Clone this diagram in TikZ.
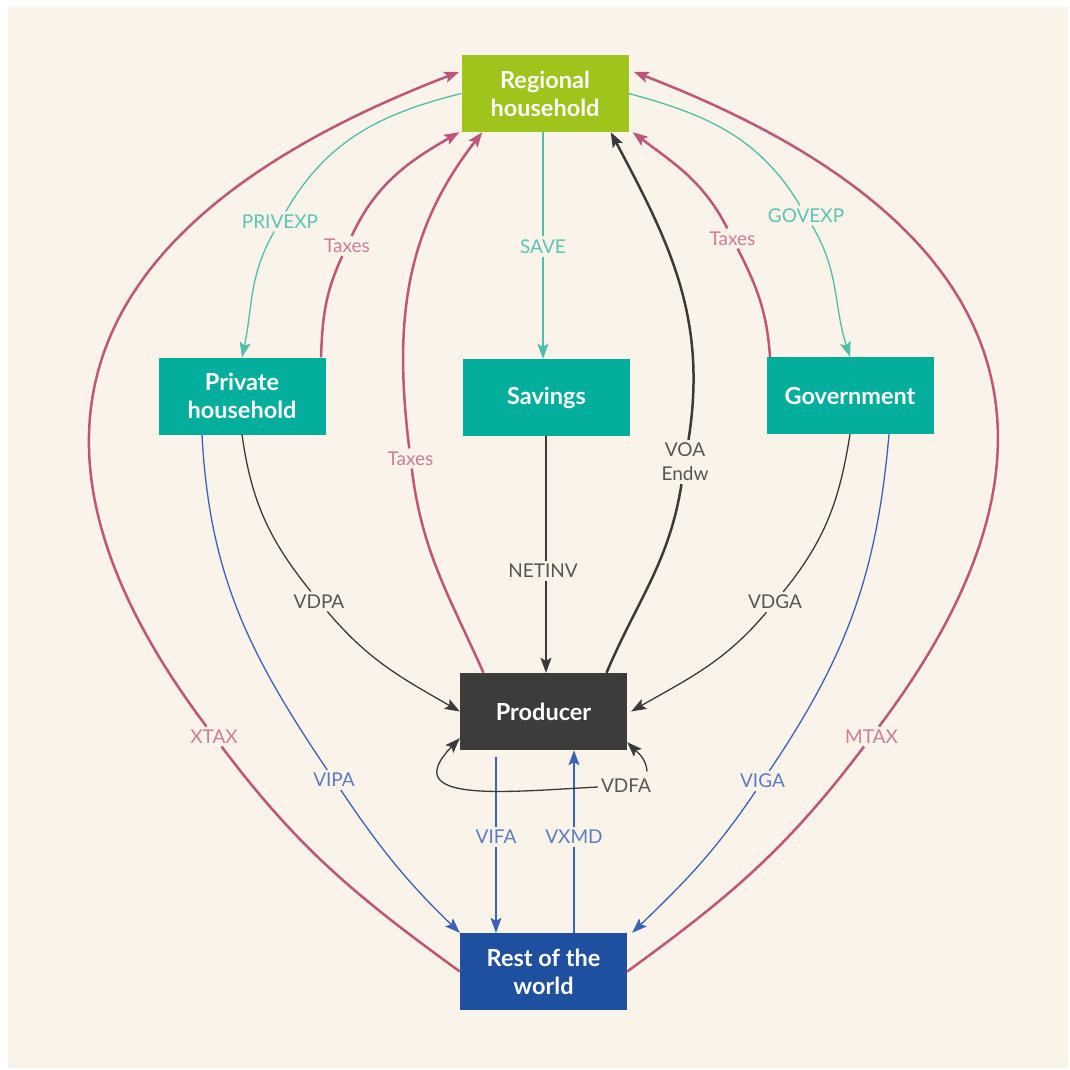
\documentclass[tikz,border=0pt]{standalone}
\usepackage{fontspec}
\setmainfont{Lato}
\usetikzlibrary{arrows.meta,calc}
\definecolor{bg}{HTML}{FAF3EA}
\definecolor{rhc}{HTML}{9FC41B}
\definecolor{tealbox}{HTML}{03AE9D}
\definecolor{prc}{HTML}{3C3C3B}
\definecolor{rwc}{HTML}{1F4F9F}
\definecolor{pinkl}{HTML}{C0557A}
\definecolor{teall}{HTML}{4DBFAB}
\definecolor{bluel}{HTML}{3A63B8}
\definecolor{darkl}{HTML}{3A3A3A}
\definecolor{pinkt}{HTML}{D07C98}
\definecolor{tealt}{HTML}{5CC4B2}
\definecolor{bluet}{HTML}{5B7DC0}
\definecolor{darkt}{HTML}{555555}
\begin{document}
\begin{tikzpicture}[x=1pt,y=1pt,
  box/.style={minimum width=167pt, minimum height=77pt, inner sep=0pt, text=white,
    font=\bfseries\fontsize{23.5}{28}\selectfont, align=center},
  lbl/.style={font=\fontsize{19}{24}\selectfont, inner sep=3pt, align=center},
  pk/.style={draw=pinkl, line width=2.5pt},
  dk/.style={draw=darkl, line width=2.5pt},
  dkthin/.style={draw=darkl, line width=1.3pt},
  tl/.style={draw=teall, line width=1.3pt},
  bl/.style={draw=bluel, line width=1.3pt},
  tip/.style={-{Stealth[length=15pt,width=11pt,inset=3pt]}}]
\useasboundingbox (0,0) rectangle (1070,-1069);
\fill[white] (0,0) rectangle (1070,-1069);
\fill[bg] (8,-7) rectangle (1068,-1068);

% nodes
\node[box, fill=rhc] (RH) at (545,-93.5) {Regional\\household};
\node[box, fill=tealbox] (PH) at (242,-396) {Private\\household};
\node[box, fill=tealbox] (SV) at (546.5,-397.5) {Savings};
\node[box, fill=tealbox] (GV) at (850,-395.5) {Government};
\node[box, fill=prc] (PR) at (543.5,-711.5) {Producer};
\node[box, fill=rwc] (RW) at (543.5,-971.5) {Rest of the\\world};

% labels
\node[lbl, text=tealt] (lPRIVEXP) at (280,-221.5) {PRIVEXP};
\node[lbl, text=pinkt] (lTaxA) at (347,-246) {Taxes};
\node[lbl, text=tealt] (lSAVE) at (543,-246.5) {SAVE};
\node[lbl, text=pinkt] (lTaxC) at (732.5,-238.5) {Taxes};
\node[lbl, text=tealt] (lGOVEXP) at (806,-215.5) {GOVEXP};
\node[lbl, text=pinkt] (lTaxB) at (410.5,-458.5) {Taxes};
\node[lbl, text=darkt] (lVOA) at (685,-462) {VOA\\Endw};
\node[lbl, text=darkt] (lNETINV) at (543,-570.5) {NETINV};
\node[lbl, text=darkt] (lVDPA) at (319,-601.5) {VDPA};
\node[lbl, text=darkt] (lVDGA) at (775,-602) {VDGA};
\node[lbl, text=pinkt] (lXTAX) at (214,-736.5) {XTAX};
\node[lbl, text=pinkt] (lMTAX) at (871.5,-736.5) {MTAX};
\node[lbl, text=bluet] (lVIPA) at (334,-780) {VIPA};
\node[lbl, text=bluet] (lVIGA) at (762.5,-781) {VIGA};
\node[lbl, text=darkt] (lVDFA) at (626,-785.5) {VDFA};
\node[lbl, text=bluet] (lVIFA) at (496,-836.5) {VIFA};
\node[lbl, text=bluet] (lVXMD) at (574,-837) {VXMD};

% straight connectors
\draw[tl] (RH.south -| lSAVE) -- (lSAVE);
\draw[tl,tip] (lSAVE) -- (SV.north -| lSAVE);
\draw[dkthin] ([xshift=3pt]SV.south -| lNETINV) -- ([xshift=3pt]lNETINV.north);
\draw[dkthin,tip] ([xshift=3pt]lNETINV.south) -- ([xshift=3pt]PR.north -| lNETINV);
\draw[bl] ([yshift=-7pt]PR.south -| lVIFA) -- (lVIFA);
\draw[bl,tip] (lVIFA) -- (RW.north -| lVIFA);
\draw[bl] (RW.north -| lVXMD) -- (lVXMD);
\draw[bl,tip] (lVXMD) -- (PR.south -| lVXMD);

% expenditure curves
\draw[tl] (RH.west) to[out=194,in=60] (lPRIVEXP);
\draw[tl,tip] (lPRIVEXP) to[out=240,in=78] (PH.north);
\draw[tl] (RH.east) to[out=-15,in=121] (lGOVEXP);
\draw[tl,tip] (lGOVEXP) to[out=-59,in=108] (GV.north);

% taxes
\draw[pk] ([xshift=79pt]PH.north) to[out=88,in=-115] (lTaxA);
\draw[pk,tip] (lTaxA) to[out=65,in=210] ([xshift=-2pt]RH.south west);
\draw[pk] ([xshift=-60pt]PR.north) to[out=114,in=-83] (lTaxB);
\draw[pk,tip] (lTaxB) to[out=97,in=232] ([xshift=21pt]RH.south west);
\draw[pk] ([xshift=-80pt]GV.north) to[out=94,in=-63] (lTaxC);
\draw[pk,tip] (lTaxC) to[out=117,in=-37] ([xshift=4pt]RH.south east);

% VOA
\draw[dk] ([xshift=63pt]PR.north) to[out=67,in=-99] (lVOA);
\draw[dk,tip] (lVOA) to[out=81,in=-62] ([xshift=-18pt]RH.south east);

% XTAX / MTAX
\draw[pk] (RW.west) to[out=144,in=-53] (lXTAX);
\draw[pk,tip] (lXTAX) to[out=127,in=201,looseness=1.4] ([xshift=-2pt,yshift=-17pt]RH.north west);
\draw[pk] (RW.east) to[out=36,in=-127] (lMTAX);
\draw[pk,tip] (lMTAX) to[out=53,in=-21,looseness=1.4] ([xshift=5pt,yshift=-17pt]RH.north east);

% domestic purchases
\draw[dkthin] (PH.south) to[out=-82,in=129] (lVDPA);
\draw[dkthin,tip] (lVDPA) to[out=-50,in=150] (PR.west);
\draw[dkthin] (GV.south) to[out=-99,in=51] (lVDGA);
\draw[dkthin,tip] (lVDGA) to[out=-130,in=30] ([xshift=4pt]PR.east);

% imports
\draw[bl] ([xshift=-40pt]PH.south) to[out=-87,in=124] (lVIPA);
\draw[bl,tip] (lVIPA) to[out=-56,in=136] (RW.north west);
\draw[bl] ([xshift=39pt]GV.south) to[out=-95,in=56] (lVIGA);
\draw[bl,tip] (lVIGA) to[out=-124,in=44] ([xshift=5pt]RW.north east);

% VDFA loop
\draw[dkthin,tip] (lVDFA) to[out=183,in=226,looseness=1.6] ([yshift=12pt]PR.south west);
\draw[dkthin,tip] ([xshift=-7pt,yshift=4pt]lVDFA.north east) to[out=95,in=-45] ([yshift=8pt]PR.south east);
\end{tikzpicture}
\end{document}
